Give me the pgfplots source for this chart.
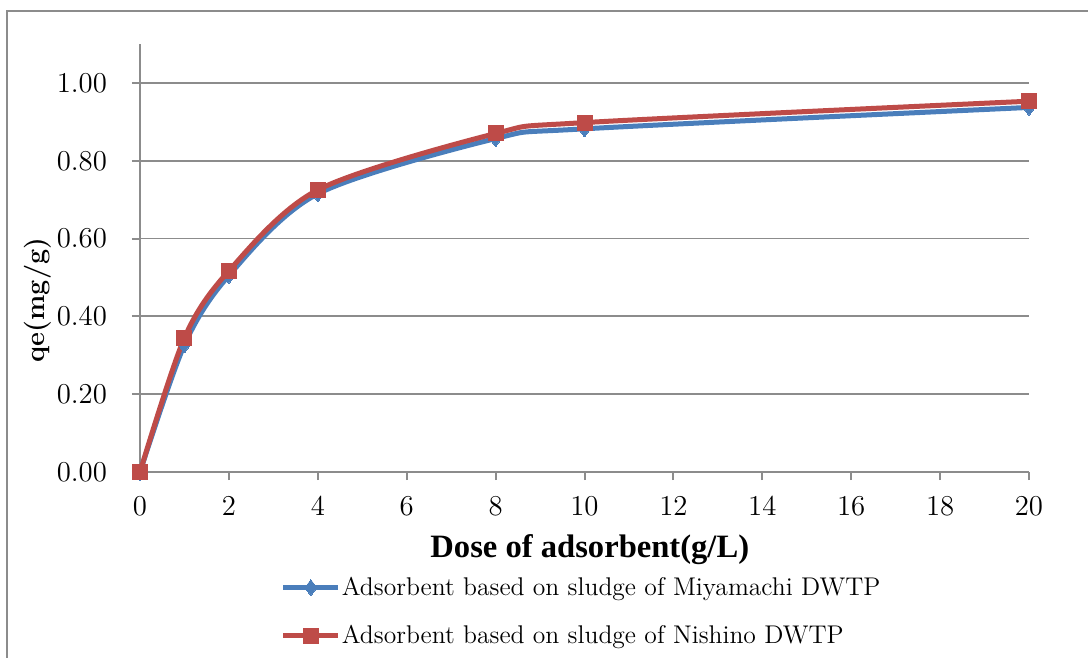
\documentclass[border=0pt]{standalone}
\usepackage{fontspec}
\usepackage{pgfplots}
\pgfplotsset{compat=1.18}
\newfontfamily\labelfont{Liberation Serif}

\definecolor{framegray}{HTML}{8C8C8C}
\definecolor{miyablue}{HTML}{4A7EBB}
\definecolor{nishred}{HTML}{BE4B48}

\begin{document}
\begin{tikzpicture}
\path[use as bounding box] (0pt,0pt) rectangle (544pt,-329pt);
% chart area frame
\draw[framegray,line width=1pt] (3.5pt,-330pt) -- (3.5pt,-5.5pt) -- (545pt,-5.5pt);

\begin{axis}[
  at={(70pt,-236pt)}, anchor=south west,
  scale only axis, width=444.5pt, height=214pt,
  xmin=0, xmax=20, ymin=0, ymax=1.1,
  axis x line*=bottom, axis y line*=left,
  axis line style={framegray,line width=1pt,-},
  xtick={0,2,...,20},
  ytick={0,0.2,0.4,0.6,0.8,1.0},
  tick style={framegray,line width=1pt},
  tick align=outside, major tick length=4pt,
  ymajorgrids, grid style={framegray,line width=0.9pt},
  yticklabel style={/pgf/number format/fixed,/pgf/number format/fixed zerofill,/pgf/number format/precision=2, xshift=-9pt},
  ticklabel style={font=\fontsize{14}{16}\selectfont},
  xticklabel style={yshift=-5pt},
  xlabel={\labelfont\bfseries Dose of adsorbent(g/L)},
  xlabel style={font=\fontsize{16.3}{19}\selectfont, at={(axis description cs:0.506,-0.182)}, anchor=center},
  ylabel={\bfseries qe(mg/g)},
  ylabel style={font=\fontsize{13.5}{16}\selectfont, at={(axis description cs:-0.115,0.402)}, anchor=center, rotate=0},
  legend style={at={(axis description cs:0.158,-0.242)}, anchor=north west, draw=none, fill=none,
    font=\fontsize{12.8}{15}\selectfont, row sep=12.5pt, inner sep=0pt, column sep=0pt,
    nodes={inner sep=0.5pt}},
  legend cell align=left,
  legend image code/.code={
    \draw[mark repeat=2,mark phase=2] plot coordinates {(0,0) (13.75pt,0) (27.5pt,0)};
  },
  clip=false,
]
\addplot[miyablue, line width=2.5pt, smooth, tension=0.5,
  mark=diamond*, mark size=4pt, mark options={fill=miyablue, draw=miyablue, line width=0pt}]
  coordinates {(0,0) (1,0.327) (2,0.505) (4,0.715) (8,0.857) (10,0.882) (20,0.937)};
\addlegendentry{Adsorbent based on sludge of Miyamachi DWTP}
\addplot[nishred, line width=2.5pt, smooth, tension=0.5,
  mark=square*, mark size=3.75pt, mark options={fill=nishred, draw=nishred, line width=0pt}]
  coordinates {(0,0) (1,0.345) (2,0.517) (4,0.725) (8,0.870) (10,0.898) (20,0.953)};
\addlegendentry{Adsorbent based on sludge of Nishino DWTP}
\end{axis}
\end{tikzpicture}
\end{document}
